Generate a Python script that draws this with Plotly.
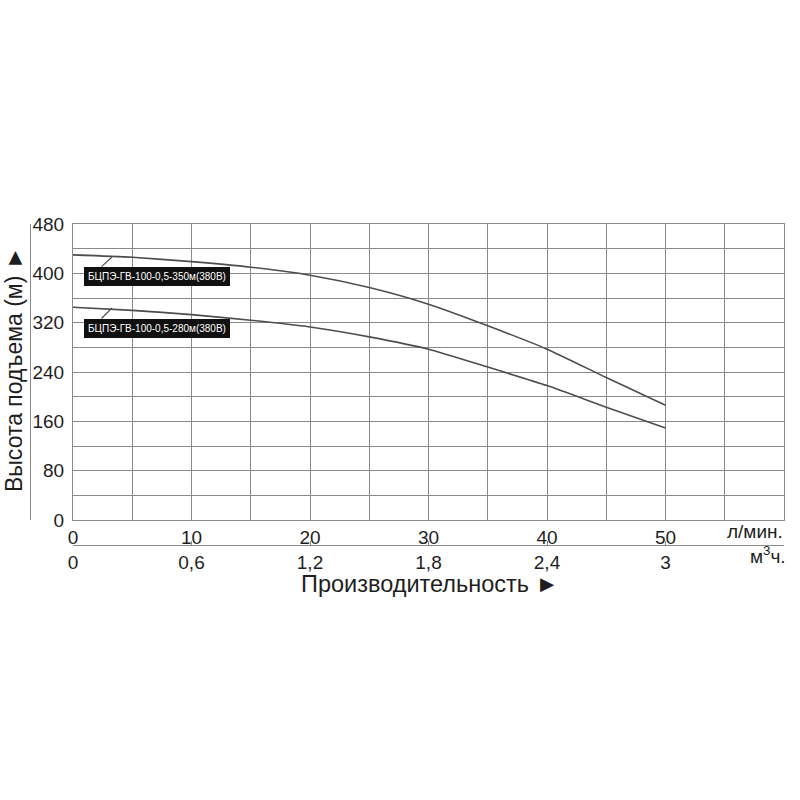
import plotly.graph_objects as go

# ---- data ----
flow_lpm = [0, 5, 10, 15, 20, 25, 30, 35, 40, 45, 50]
head_350 = [430, 426, 419, 410, 397, 377, 350, 315, 277, 231, 186]
head_280 = [345, 340, 333, 324, 313, 297, 277, 248, 218, 183, 149]
series_names = ["БЦПЭ-ГВ-100-0,5-350м(380В)", "БЦПЭ-ГВ-100-0,5-280м(380В)"]

x_tick_vals = [0, 10, 20, 30, 40, 50]
x_tick_text = ["0", "10", "20", "30", "40", "50"]
m3_tick_vals = [0, 0.6, 1.2, 1.8, 2.4, 3.0]
m3_tick_text = ["0", "0,6", "1,2", "1,8", "2,4", "3"]
y_tick_vals = [0, 80, 160, 240, 320, 400, 480]

# label boxes (data coords) and leader lines (from box -> curve)
label_box_x = [7.05, 7.05]
label_box_y = [395, 310.5]
leader_from = [(2.28, 408.6), (2.28, 324.3)]
leader_to = [(3.29, 426.5), (3.29, 343.8)]

GRID = "#8a8a8a"
CURVE = "#4d4d4d"
TEXT = "#1e1e1e"
FONT = "Liberation Sans, Arial, sans-serif"

W = H = 800
L = 30
R = 800 - 784
T = 224
B = 800 - 545
plot_w = W - L - R
plot_h = H - T - B
x_dom0 = (73 - L) / plot_w
y_dom0 = (545 - 520) / plot_h


def fx(abs_x):
    return (abs_x - L) / plot_w


def fy(abs_y):
    return (H - B - abs_y) / plot_h


fig = go.Figure()
for ys in (head_350, head_280):
    fig.add_trace(go.Scatter(x=flow_lpm, y=ys, mode="lines",
                             line=dict(color=CURVE, width=1.6, shape="spline", smoothing=0.6),
                             hoverinfo="skip", showlegend=False))
# dummy traces to activate secondary axes
fig.add_trace(go.Scatter(x=[0], y=[0], xaxis="x2", yaxis="y", mode="lines",
                         hoverinfo="skip", showlegend=False))
fig.add_trace(go.Scatter(x=[0], y=[0], xaxis="x", yaxis="y2", mode="lines",
                         hoverinfo="skip", showlegend=False))

annotations = []
for name, bx, by in zip(series_names, label_box_x, label_box_y):
    annotations.append(dict(x=bx, y=by, xref="x", yref="y", text=name, showarrow=False,
                            xanchor="center", yanchor="middle",
                            font=dict(family=FONT, size=10, color="white"),
                            bgcolor="#111111", bordercolor="#111111", borderpad=3))
for (sx, sy), (tx, ty) in zip(leader_from, leader_to):
    annotations.append(dict(x=tx, y=ty, xref="x", yref="y", ax=sx, ay=sy, axref="x", ayref="y",
                            text="", showarrow=True, arrowhead=0, arrowwidth=1.1,
                            arrowcolor=CURVE, standoff=0, startstandoff=0))
annotations += [
    dict(x=fx(755), y=fy(531), text="л/мин.", font=dict(family=FONT, size=19, color=TEXT)),
    dict(x=fx(768), y=fy(555), text="м<sup>3</sup>ч.", font=dict(family=FONT, size=19, color=TEXT)),
    dict(x=fx(430), y=fy(584), text="Производительность ►", font=dict(family=FONT, size=23.5, color=TEXT)),
    dict(x=fx(14), y=fy(370), text="Высота подъема (м) ►", textangle=-90,
         font=dict(family=FONT, size=23, color=TEXT)),
]
for a in annotations[-4:]:
    a.update(xref="paper", yref="paper", showarrow=False, xanchor="center", yanchor="middle")

fig.update_layout(
    width=W, height=H,
    margin=dict(l=L, r=R, t=T, b=B, pad=0),
    paper_bgcolor="white", plot_bgcolor="white",
    font=dict(family=FONT, size=19, color=TEXT),
    showlegend=False,
    xaxis=dict(domain=[x_dom0, 1], range=[0, 60], anchor="y",
               tickvals=x_tick_vals, ticktext=x_tick_text, ticks="",
               showgrid=True, gridcolor=GRID, gridwidth=1.2,
               minor=dict(dtick=5, showgrid=True, gridcolor=GRID, gridwidth=1.2),
               showline=True, linecolor=GRID, linewidth=1.2, mirror=True,
               zeroline=False, tickfont=dict(size=19)),
    xaxis2=dict(overlaying="x", anchor="free", position=0, range=[0, 3.6],
                tickvals=m3_tick_vals, ticktext=m3_tick_text,
                ticks="inside", ticklen=4, tickcolor=GRID, tickwidth=1.2,
                showgrid=False, showline=True, linecolor=GRID, linewidth=1.2,
                zeroline=False, tickfont=dict(size=19)),
    yaxis=dict(domain=[y_dom0, 1], range=[0, 480], anchor="x",
               tickvals=y_tick_vals, ticks="", ticklabelstandoff=4,
               showgrid=True, gridcolor=GRID, gridwidth=1.2,
               minor=dict(dtick=40, showgrid=True, gridcolor=GRID, gridwidth=1.2),
               showline=True, linecolor=GRID, linewidth=1.2, mirror=True,
               zeroline=False, tickfont=dict(size=19)),
    yaxis2=dict(overlaying="y", anchor="free", position=0, range=[0, 480],
                showticklabels=False, ticks="", showgrid=False,
                showline=True, linecolor=GRID, linewidth=1.2, zeroline=False),
    annotations=annotations,
)

fig.write_html("out.html", config={"displayModeBar": False},
               post_script="document.body.style.margin='0px';")
